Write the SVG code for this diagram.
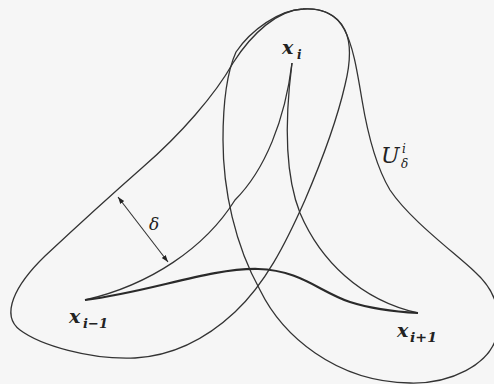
<svg xmlns="http://www.w3.org/2000/svg" width="494" height="384" viewBox="0 0 494 384">
<style>
.bg{fill:#f6f6f6}
.loop{fill:none;stroke:#333;stroke-width:1.3}
.thin{fill:none;stroke:#333;stroke-width:1.3}
.thick{fill:none;stroke:#2a2a2a;stroke-width:2.2}
.dim{fill:none;stroke:#333;stroke-width:1.1}
text{font-family:'DejaVu Serif','Liberation Serif',serif;font-style:italic;fill:#222}
.bx{font-weight:bold}
</style>
<defs>
<marker id="ah" viewBox="0 0 10 10" refX="10" refY="5" markerWidth="7" markerHeight="7" markerUnits="userSpaceOnUse" orient="auto-start-reverse">
<path d="M0,1.5 L10,5 L0,8.5 Z" fill="#222"/>
</marker>
</defs>
<rect class="bg" x="0" y="0" width="494" height="384"/>
<g id="loops">
<path id="loopA" class="loop" d="M233,63 C215,95 180,135 143,167 C110,196 75,228 45,256 C15,285 0,315 20,330 C40,345 90,360 135,358 C170,356 205,340 235,312 C265,284 285,245 305,200 C320,165 337,120 345,85 C350,65 352,45 345,30 C336,12 318,8 303,9 C278,10 252,33 233,63 Z"/>
<path id="loopB" class="loop" d="M236,52 C227,72 223,100 223,140 C223,190 235,245 260,290 C282,335 335,382 410,383 C450,384 490,365 497,335 C502,310 495,290 475,272 C455,253 410,220 390,190 C375,165 367,130 362,100 C357,70 353,45 344,29 C335,12 318,8 303,9 C279,10 251,30 236,52 Z"/>
</g>
<g id="curves">
<path id="c1" class="thin" d="M85,300 C150,285 205,248 235,200 C265,170 285,120 292,63"/>
<path id="c2" class="thin" d="M292,63 C286,110 283,170 300,213 C320,260 360,300 418,313"/>
<path id="c3" class="thick" d="M85,300 C150,292 210,268 258,269 C300,270 320,292 350,302 C375,310 400,312 418,313"/>
</g>
<g id="delta-arrow">
<line class="dim" x1="118" y1="197" x2="168" y2="262" marker-start="url(#ah)" marker-end="url(#ah)"/>
<text x="149" y="230" font-size="17">δ</text>
</g>
<g id="labels">
<text class="bx" x="282" y="54" font-size="19">x</text>
<text class="bx" x="297" y="59" font-size="12">i</text>
<text class="bx" x="69" y="323" font-size="19">x</text>
<text class="bx" x="83" y="328" font-size="13" textLength="25" lengthAdjust="spacingAndGlyphs">i−1</text>
<text class="bx" x="397" y="337" font-size="19">x</text>
<text class="bx" x="410" y="342" font-size="13" textLength="27" lengthAdjust="spacingAndGlyphs">i+1</text>
<text x="381" y="163" font-size="22">U</text>
<text x="402" y="153" font-size="12">i</text>
<text x="401" y="168" font-size="12">δ</text>
</g>
</svg>
